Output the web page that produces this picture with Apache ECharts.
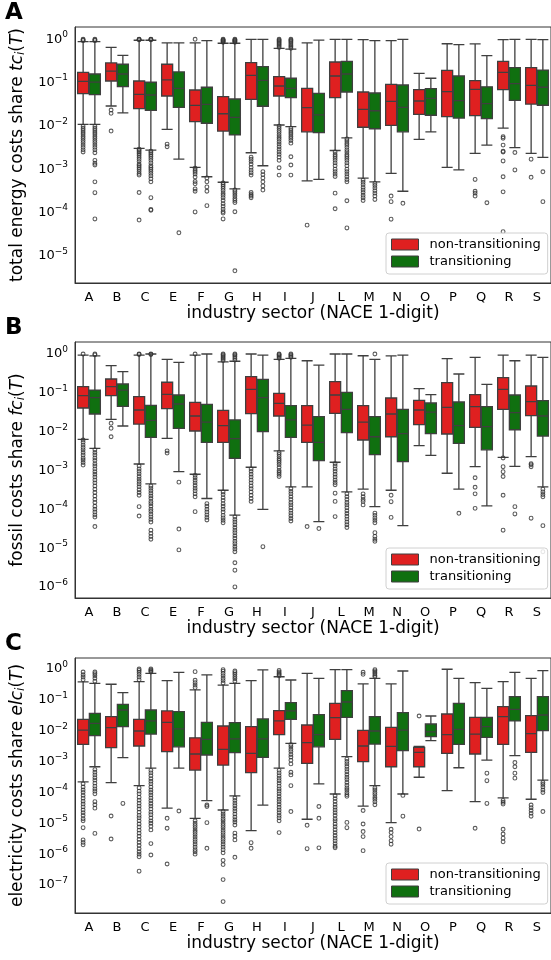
<!DOCTYPE html>
<html>
<head>
<meta charset="utf-8">
<title>Energy cost shares by industry sector</title>
<script src="https://cdn.jsdelivr.net/npm/echarts@6/dist/echarts.min.js"></script>
<style>
  html, body { margin: 0; padding: 0; background: #fff; }
  #chart { width: 551px; height: 960px; }
</style>
</head>
<body>
<div id="chart"></div>
<script>
const sectors = ['A', 'B', 'C', 'E', 'F', 'G', 'H', 'I', 'J', 'L', 'M', 'N', 'O', 'P', 'Q', 'R', 'S'];
const groups = ['non-transitioning', 'transitioning'];

// box stats per sector: [lower whisker, Q1, median, Q3, upper whisker]
// panel A: total energy costs share
const tcNonTrans = [
  [0.0109, 0.0554, 0.107, 0.173, 0.88], [0.0288, 0.109, 0.185, 0.284, 0.65],
  [0.00304, 0.025, 0.0537, 0.109, 0.95], [0.0083, 0.049, 0.115, 0.265, 0.83],
  [0.0011, 0.0125, 0.0299, 0.0675, 0.83], [0.0005, 0.0076, 0.0191, 0.0472, 0.81],
  [0.0024, 0.0411, 0.147, 0.288, 1.0], [0.0105, 0.049, 0.0834, 0.137, 0.62],
  [0.00054, 0.0073, 0.0263, 0.0738, 0.83], [0.0027, 0.0448, 0.142, 0.299, 1.0],
  [0.00062, 0.0093, 0.0242, 0.0607, 0.98], [0.0008, 0.0103, 0.037, 0.0914, 0.93],
  [0.0049, 0.0185, 0.0376, 0.0686, 0.164], [0.0011, 0.0163, 0.0616, 0.192, 0.79],
  [0.00233, 0.0172, 0.070, 0.111, 0.78], [0.0089, 0.0686, 0.173, 0.31, 0.98],
  [0.00233, 0.032, 0.0866, 0.221, 1.0]
];
const tcTrans = [
  [0.0109, 0.0526, 0.103, 0.158, 0.88], [0.0199, 0.0804, 0.158, 0.265, 0.427],
  [0.00277, 0.0229, 0.0517, 0.102, 0.95], [0.0017, 0.0269, 0.0738, 0.176, 0.83],
  [0.00067, 0.0115, 0.0315, 0.078, 0.93], [0.00035, 0.0062, 0.0158, 0.0418, 0.81],
  [0.0012, 0.0284, 0.113, 0.233, 1.0], [0.0096, 0.0448, 0.0738, 0.126, 0.59],
  [0.00058, 0.007, 0.0179, 0.0566, 0.96], [0.0053, 0.0607, 0.158, 0.31, 1.0],
  [0.00051, 0.0086, 0.0224, 0.0575, 0.93], [0.00031, 0.0073, 0.0269, 0.088, 1.0],
  [0.0073, 0.0176, 0.0434, 0.0723, 0.126], [0.00096, 0.0152, 0.0382, 0.142, 0.75],
  [0.0036, 0.0147, 0.0326, 0.080, 0.42], [0.00314, 0.039, 0.0944, 0.221, 1.0],
  [0.00188, 0.030, 0.078, 0.195, 0.98]
];
// outliers per sector
const tcNonTransOut = [
  [0.93, 0.96, 1.0, 0.0098, 0.0088, 0.008, 0.0072, 0.0065, 0.0058, 0.0052, 0.0046, 0.0041, 0.0036, 0.0032, 0.0028, 0.0025],
  [0.0233, 0.0195, 0.0076],
  [0.97, 0.99, 1.0, 0.0029, 0.0027, 0.0025, 0.0023, 0.0021, 0.0019, 0.0017, 0.0015, 0.0013, 0.0012, 0.0011, 0.001, 0.0009, 0.0008, 0.00073, 0.00029, 0.000067],
  [0.0038, 0.0033],
  [1.0, 0.00105, 0.00095, 0.00086, 0.00077, 0.00066, 0.00052, 0.00046, 0.00035, 0.00031, 0.000103],
  [0.85, 0.88, 0.91, 0.94, 0.97, 1.0, 0.00048, 0.00044, 0.0004, 0.00036, 0.00032, 0.00028, 0.00025, 0.00022, 0.00019, 0.00016, 0.00014, 0.00012, 0.000105, 0.000097, 0.000071],
  [0.0019, 0.0017, 0.0015, 0.0013, 0.0011, 0.00095, 0.00083, 0.00073, 0.00029, 0.00026, 0.00024, 0.00022],
  [0.65, 0.7, 0.75, 0.8, 0.85, 0.9, 0.95, 1.0, 0.0098, 0.0088, 0.0078, 0.007, 0.0062, 0.0055, 0.0049, 0.0043, 0.0038, 0.0033, 0.0029, 0.0025, 0.0022, 0.0019, 0.0016, 0.00108, 0.00073],
  [0.000051],
  [0.0025, 0.0022, 0.002, 0.0018, 0.0016, 0.0014, 0.0012, 0.001, 0.00088, 0.00077, 0.00068, 0.00028, 0.000122],
  [0.00056, 0.0005, 0.00044, 0.00038, 0.00033, 0.00029, 0.00025, 0.00022, 0.00019],
  [0.00024, 0.000178, 0.00007],
  [],
  [],
  [0.00058, 0.00031, 0.00028, 0.00024],
  [0.0056, 0.0052, 0.0036, 0.0026, 0.0025, 0.00155, 0.00067, 0.0003, 0.000036],
  [0.0017, 0.00065]
];
const tcTransOut = [
  [0.93, 0.96, 1.0, 0.0098, 0.0088, 0.008, 0.0072, 0.0065, 0.0058, 0.0052, 0.0046, 0.0041, 0.0036, 0.0032, 0.0028, 0.0024, 0.0016, 0.00137, 0.00125, 0.00051, 0.000287, 0.000071],
  [],
  [0.97, 0.99, 1.0, 0.0026, 0.0024, 0.0022, 0.002, 0.0018, 0.0016, 0.0014, 0.0012, 0.0011, 0.001, 0.0009, 0.0008, 0.0007, 0.0006, 0.00051, 0.00022, 0.000117, 0.000113],
  [0.000034],
  [0.00063, 0.00051, 0.00039, 0.00031, 0.000144],
  [0.85, 0.88, 0.91, 0.94, 0.97, 1.0, 0.00033, 0.0003, 0.00027, 0.00024, 0.00021, 0.00019, 0.00017, 0.000104, 0.0000045],
  [0.00088, 0.00075, 0.00063, 0.00051, 0.00041, 0.00033],
  [0.62, 0.67, 0.72, 0.78, 0.84, 0.9, 0.95, 1.0, 0.0088, 0.008, 0.0072, 0.0065, 0.0058, 0.0052, 0.0046, 0.004, 0.00194, 0.00125, 0.00073],
  [],
  [0.005, 0.0045, 0.004, 0.0036, 0.0032, 0.0028, 0.0025, 0.0022, 0.002, 0.0018, 0.0016, 0.0014, 0.0012, 0.001, 0.00088, 0.00077, 0.00067, 0.00058, 0.00051, 0.000187, 0.000044],
  [0.00047, 0.00042, 0.00037, 0.00032, 0.00028, 0.00024, 0.0002],
  [0.000163],
  [],
  [],
  [0.000168],
  [0.00243, 0.00096],
  [0.00087, 0.000178]
];

// panel B: fossil costs share
const fcNonTrans = [
  [0.00636, 0.0407, 0.0843, 0.144, 0.94], [0.0208, 0.0843, 0.144, 0.227, 0.50],
  [0.00147, 0.0157, 0.0361, 0.0796, 0.94], [0.0067, 0.039, 0.0916, 0.187, 0.73],
  [0.0008, 0.0104, 0.0253, 0.0569, 0.94], [0.00031, 0.0053, 0.0143, 0.0355, 0.63],
  [0.00121, 0.029, 0.123, 0.26, 1.0], [0.0032, 0.0253, 0.0537, 0.097, 0.73],
  [0.00038, 0.0053, 0.0148, 0.0466, 0.67], [0.00163, 0.0297, 0.088, 0.194, 1.0],
  [0.00033, 0.0061, 0.0177, 0.0466, 0.9], [0.00031, 0.0074, 0.0285, 0.0736, 0.89],
  [0.00435, 0.0151, 0.0361, 0.064, 0.128], [0.00085, 0.0087, 0.0423, 0.183, 0.76],
  [0.00125, 0.0129, 0.044, 0.0897, 0.82], [0.00218, 0.0376, 0.123, 0.245, 0.94],
  [0.00227, 0.0258, 0.059, 0.15, 0.94]
];
const fcTrans = [
  [0.0037, 0.0285, 0.075, 0.118, 0.89], [0.014, 0.0449, 0.118, 0.169, 0.35],
  [0.00045, 0.00715, 0.0195, 0.0477, 1.0], [0.00093, 0.0122, 0.0516, 0.088, 0.61],
  [0.00019, 0.0053, 0.0177, 0.0506, 1.0], [0.000071, 0.00206, 0.0066, 0.02, 0.65],
  [0.0001, 0.00998, 0.075, 0.223, 0.94], [0.00038, 0.00715, 0.02, 0.0466, 0.77],
  [0.000048, 0.00179, 0.0053, 0.0243, 0.52], [0.00028, 0.0094, 0.0376, 0.103, 1.0],
  [0.000117, 0.00255, 0.0074, 0.0243, 0.73], [0.000038, 0.00169, 0.0089, 0.0376, 0.94],
  [0.00246, 0.0089, 0.032, 0.0547, 0.0897], [0.00033, 0.005, 0.0143, 0.058, 0.305],
  [0.000122, 0.0034, 0.0135, 0.044, 0.166], [0.00128, 0.0112, 0.0308, 0.088, 0.67],
  [0.00038, 0.0077, 0.0253, 0.0628, 0.82]
];
const fcNonTransOut = [
  [1.0, 0.0061, 0.0053, 0.0045, 0.0039, 0.0034, 0.0029, 0.0025, 0.0021, 0.00186, 0.0016, 0.00138],
  [0.0164, 0.0122, 0.0074],
  [0.97, 1.0, 0.0013, 0.0011, 0.00095, 0.00082, 0.0007, 0.0006, 0.00052, 0.00045, 0.00038, 0.00032, 0.00027, 0.00023, 0.000117, 0.000067],
  [0.0032, 0.0028],
  [1.0, 0.00075, 0.00065, 0.00056, 0.00048, 0.00041, 0.00035, 0.0003, 0.00025, 0.00021, 0.000087],
  [0.68, 0.74, 0.8, 0.87, 0.94, 1.0, 0.00028, 0.00024, 0.0002, 0.00017, 0.00014, 0.00012, 0.0001, 0.000085, 0.00007, 0.00006, 0.000052, 0.000045],
  [0.0011, 0.00095, 0.0008, 0.00068, 0.00057, 0.00048, 0.0004, 0.00034, 0.00028, 0.00023, 0.00019, 0.00016],
  [0.78, 0.84, 0.9, 0.96, 1.0, 0.0029, 0.0026, 0.0023, 0.002, 0.0018, 0.0016, 0.0014, 0.0012, 0.001, 0.0009, 0.0008, 0.0007],
  [0.000036],
  [0.0015, 0.0013, 0.0011, 0.00095, 0.0008, 0.00068, 0.00057, 0.00049, 0.00043, 0.00026, 0.00016, 0.000065],
  [0.00025, 0.00021, 0.00018, 0.00016, 0.00013],
  [0.00023, 0.000157, 0.000062],
  [],
  [],
  [0.00065, 0.00037, 0.00025, 0.000106],
  [0.0021, 0.00125, 0.00093, 0.0007, 0.00023, 0.000029],
  [0.0015, 0.0014, 0.00125, 0.000059]
];
const fcTransOut = [
  [0.95, 1.0, 0.0034, 0.0029, 0.0025, 0.0021, 0.0018, 0.0015, 0.0013, 0.0011, 0.00093, 0.0008, 0.00068, 0.00057, 0.00048, 0.0004, 0.00033, 0.00027, 0.00022, 0.00018, 0.00015, 0.00012, 0.0001, 0.000085, 0.000072, 0.000063, 0.000036],
  [],
  [0.97, 1.0, 0.0004, 0.00035, 0.0003, 0.00026, 0.00022, 0.00019, 0.00016, 0.00014, 0.00012, 0.0001, 0.000088, 0.000075, 0.000064, 0.000055, 0.000047, 0.000029, 0.000024, 0.00002, 0.000017],
  [0.0005, 0.000031, 0.000009],
  [0.00014, 0.00012, 0.0001, 0.000085, 0.000072, 0.000062, 0.000053],
  [0.7, 0.78, 0.86, 0.94, 1.0, 0.000064, 0.000055, 0.000047, 0.00004, 0.000034, 0.000029, 0.000025, 0.000021, 0.000018, 0.000015, 0.000013, 0.000011, 0.0000095, 0.0000081, 0.0000042, 0.0000027, 0.000001],
  [0.0000109],
  [0.82, 0.88, 0.94, 1.0, 0.00034, 0.00029, 0.00025, 0.00021, 0.00018, 0.00015, 0.00013, 0.00011, 0.000094, 0.00008, 0.000068, 0.000058, 0.00005],
  [0.000032],
  [0.00025, 0.00021, 0.00018, 0.00015, 0.00013, 0.00011, 0.000092, 0.000078, 0.000066, 0.000056, 0.000047, 0.00004, 0.000034],
  [1.0, 0.00008, 0.00007, 0.00006, 0.000052, 0.000045, 0.000025, 0.00002, 0.000017, 0.000015],
  [],
  [],
  [0.000079],
  [],
  [0.000117, 0.000076],
  [0.00033, 0.00028, 0.00024, 0.00021, 0.000038, 0.0000081]
];

// panel C: electricity costs share
const elcNonTrans = [
  [0.00022, 0.00363, 0.0105, 0.0234, 0.38], [0.000207, 0.00282, 0.0126, 0.0285, 0.32],
  [0.000166, 0.0032, 0.0098, 0.0234, 0.39], [0.000031, 0.0021, 0.0187, 0.0436, 0.42],
  [0.0000145, 0.00053, 0.00176, 0.0059, 0.21], [0.000027, 0.00077, 0.0025, 0.0142, 0.30],
  [0.0000058, 0.00044, 0.00185, 0.0135, 0.42], [0.00061, 0.00744, 0.0207, 0.0446, 0.56],
  [0.0000135, 0.00088, 0.0041, 0.0153, 0.72], [0.000089, 0.00526, 0.0265, 0.077, 0.95],
  [0.000036, 0.00099, 0.0032, 0.0103, 0.33], [0.0000105, 0.00068, 0.0031, 0.0129, 0.33],
  [0.00031, 0.00068, 0.002, 0.0029, 0.0031], [0.000114, 0.00185, 0.00744, 0.0348, 0.98],
  [0.00005, 0.00176, 0.0078, 0.0272, 0.36], [0.000067, 0.00363, 0.0285, 0.06, 0.39],
  [0.00006, 0.002, 0.008, 0.0307, 0.5]
];
const elcTrans = [
  [0.00068, 0.0069, 0.0174, 0.0366, 0.34], [0.00134, 0.0135, 0.0469, 0.0717, 0.171],
  [0.00061, 0.0078, 0.0207, 0.0469, 0.72], [0.00061, 0.003, 0.0115, 0.0414, 0.78],
  [0.000054, 0.00163, 0.00526, 0.0187, 0.64], [0.000077, 0.00194, 0.0054, 0.0182, 0.34],
  [0.000039, 0.00137, 0.0054, 0.024, 0.93], [0.0039, 0.0234, 0.0436, 0.081, 0.44],
  [0.000188, 0.003, 0.00744, 0.033, 0.5], [0.00144, 0.0272, 0.0853, 0.199, 0.95],
  [0.000166, 0.0037, 0.0098, 0.0285, 0.5], [0.000089, 0.00225, 0.0105, 0.0384, 0.86],
  [0.00475, 0.0064, 0.0091, 0.0165, 0.03], [0.00063, 0.00363, 0.0111, 0.077, 0.5],
  [0.00112, 0.0061, 0.0135, 0.0272, 0.237], [0.00155, 0.0207, 0.0494, 0.127, 0.78],
  [0.00025, 0.01, 0.0323, 0.127, 0.88]
];
const elcNonTransOut = [
  [0.45, 0.55, 0.65, 0.8, 0.00019, 0.00015, 0.00012, 0.0001, 0.00008, 0.000065, 0.000052, 0.000042, 0.000034, 0.000027, 0.000022, 0.000018, 0.000014, 0.000012, 0.0000072, 0.0000029, 0.0000024, 0.000002],
  [0.0000172, 0.0000031],
  [0.45, 0.55, 0.66, 0.78, 0.9, 1.0, 0.00014, 0.00011, 0.00009, 0.00007, 0.000056, 0.000045, 0.000036, 0.000029, 0.000023, 0.000018, 0.000015, 0.000012, 0.0000095, 0.0000076, 0.000006, 0.0000048, 0.0000038, 0.000003, 0.0000024, 0.0000019, 0.0000015, 0.0000012, 0.000001, 0.00000082, 0.00000028],
  [0.0000145, 0.0000069, 0.00000048],
  [0.25, 0.3, 0.36, 0.43, 0.82, 0.000012, 0.00001, 0.0000085, 0.0000072, 0.000006, 0.0000051, 0.0000043, 0.0000036, 0.000003, 0.0000025, 0.0000021, 0.0000017, 0.0000014, 0.0000012, 0.000001],
  [0.35, 0.42, 0.5, 0.6, 0.72, 0.85, 0.95, 0.000024, 0.00002, 0.000017, 0.000014, 0.000012, 0.00001, 0.0000085, 0.0000072, 0.000006, 0.000005, 0.0000042, 0.0000035, 0.000003, 0.0000025, 0.0000021, 0.0000017, 0.0000014, 0.0000011, 0.00000063, 0.00000046, 0.00000015, 0.000000029],
  [0.00000235, 0.00000155],
  [0.6, 0.66, 0.72, 0.8, 0.9, 0.00052, 0.00043, 0.00035, 0.00029, 0.00024, 0.0002, 0.00016, 0.00013, 0.00011, 0.00009, 0.000074, 0.00006, 0.00005, 0.000041, 0.000033, 0.000027, 0.000022, 0.000018, 0.000015, 0.000012, 0.000005],
  [0.0000086, 0.0000015],
  [0.000078, 0.000063, 0.000051, 0.000041, 0.000033, 0.000027, 0.000022, 0.000018, 0.000014, 0.000012, 0.0000095, 0.0000077, 0.0000062, 0.000005, 0.000004, 0.0000033, 0.0000027, 0.0000022, 0.0000018, 0.0000016],
  [0.67, 0.78, 0.000026, 0.0000095, 0.0000054, 0.0000037, 0.0000013],
  [0.0000064, 0.000005, 0.0000037, 0.0000027, 0.0000021],
  [0.03, 0.0000065],
  [],
  [0.0000069],
  [0.000055, 0.000048, 0.000042, 0.0000064, 0.0000045, 0.0000033, 0.0000025],
  [0.000039, 0.000032, 0.000026, 0.000021, 0.000017]
];
const elcTransOut = [
  [0.4, 0.5, 0.6, 0.7, 0.8, 0.00055, 0.00045, 0.00037, 0.0003, 0.00025, 0.0002, 0.00016, 0.00013, 0.00011, 0.00009, 0.00005, 0.00004, 0.000031, 0.0000047],
  [0.000044],
  [0.8, 0.86, 0.92, 1.0, 0.00052, 0.00043, 0.00035, 0.00028, 0.00023, 0.00019, 0.00015, 0.00012, 0.0001, 0.000082, 0.000066, 0.000054, 0.000044, 0.000036, 0.000029, 0.000023, 0.000019, 0.000015, 0.000012, 0.00001, 0.000008, 0.0000061, 0.0000022, 0.00000094],
  [0.000025],
  [0.000039, 0.000035, 0.0000105, 0.00000155],
  [0.4, 0.48, 0.56, 0.66, 0.76, 0.86, 0.000066, 0.000055, 0.000045, 0.000037, 0.00003, 0.000025, 0.00002, 0.000016, 0.000013, 0.000011, 0.0000088, 0.0000048, 0.0000038, 0.0000029, 0.00000079],
  [],
  [0.0035, 0.003, 0.0025, 0.0021, 0.0017, 0.0014, 0.0011, 0.00084, 0.00045, 0.00037, 0.000166, 0.000024],
  [0.000035, 0.0000145, 0.0000016],
  [0.0012, 0.001, 0.00084, 0.00069, 0.00057, 0.00047, 0.00038, 0.00031, 0.00026, 0.00021, 0.00017, 0.00014, 0.00012, 0.0001, 0.000085, 0.000075, 0.0000107, 0.0000072],
  [0.56, 0.62, 0.7, 0.78, 0.87, 0.95, 0.00014, 0.00012, 0.0001, 0.000085, 0.00007, 0.00006, 0.00005, 0.00004],
  [0.00008, 0.000017],
  [],
  [],
  [0.00042, 0.00024, 0.000044],
  [0.00093, 0.00068, 0.00042, 0.00029],
  [0.00021, 0.00018, 0.00015, 0.00012, 0.0001, 0.000024]
];

const font = 'DejaVu Sans';
const fills = ['#df2020', '#107010'];
const edge = '#3f3f3f';
const spine = '#333';
const lg = Math.log10;

// layout of the three stacked panels (log10 extents)
const panels = [
  {
    letter: 'A', top: 27, height: 256, min: -5.628, max: 0.284,
    name: 'total energy costs share {i|tc}{s|i}{n|(}{i|T}{n|)}',
    boxes: [tcNonTrans, tcTrans], fliers: [tcNonTransOut, tcTransOut]
  },
  {
    letter: 'B', top: 342, height: 256, min: -6.284, max: 0.309,
    name: 'fossil costs share {i|fc}{s|i}{n|(}{i|T}{n|)}',
    boxes: [fcNonTrans, fcTrans], fliers: [fcNonTransOut, fcTransOut]
  },
  {
    letter: 'C', top: 658, height: 255, min: -7.907, max: 0.356,
    name: 'electricity costs share {i|elc}{s|i}{n|(}{i|T}{n|)}',
    boxes: [elcNonTrans, elcTrans], fliers: [elcNonTransOut, elcTransOut]
  }
];

const decades = (p) => {
  const out = [];
  for (let k = Math.ceil(p.min); k <= Math.floor(p.max); k++) out.push(k);
  return out;
};
const minorTicks = (p) => {
  const out = [];
  for (let k = Math.floor(p.min); k <= Math.ceil(p.max); k++) {
    for (let m = 2; m <= 9; m++) {
      const v = k + lg(m);
      if (v > p.min && v < p.max) out.push(v);
    }
  }
  return out;
};

const option = {
  animation: false,
  title: [], grid: [], xAxis: [], yAxis: [], legend: [], series: []
};

panels.forEach((p, i) => {
  option.title.push({
    text: p.letter, left: 5, top: p.top - 25, padding: 0,
    textStyle: { fontFamily: font, fontSize: 23, fontWeight: 'bold', color: '#000' }
  });
  option.grid.push({
    left: 75, right: -3.4, top: p.top, height: p.height,
    show: true, borderColor: spine, borderWidth: 1
  });
  option.xAxis.push({
    type: 'category', gridIndex: i, data: sectors,
    name: 'industry sector (NACE 1-digit)', nameLocation: 'middle', nameGap: 22,
    nameTextStyle: { fontFamily: font, fontSize: 17, color: '#000' },
    axisLine: { onZero: false, lineStyle: { color: spine, width: 1 } },
    axisTick: { alignWithLabel: true, length: 5, lineStyle: { color: '#222' } },
    axisLabel: { margin: 8, fontFamily: font, fontSize: 13, color: '#000' }
  });
  option.yAxis.push({
    type: 'value', gridIndex: i, min: p.min, max: p.max,
    name: p.name, nameLocation: 'middle', nameGap: 46,
    nameTextStyle: {
      fontFamily: font, fontSize: 17, color: '#000',
      rich: {
        i: { fontFamily: font, fontSize: 17, fontStyle: 'italic', color: '#000' },
        n: { fontFamily: font, fontSize: 17, color: '#000' },
        s: { fontFamily: font, fontSize: 12, fontStyle: 'italic', color: '#000', padding: [7, 0, 0, 0] }
      }
    },
    splitLine: { show: false },
    axisLine: { show: true, lineStyle: { color: spine, width: 1 } },
    axisTick: { customValues: decades(p), length: 5, lineStyle: { color: '#222' } },
    axisLabel: {
      customValues: decades(p), margin: 7,
      formatter: (v) => '{b|10}{e|' + (v < 0 ? '\u2212' + (-v) : v) + '}',
      rich: {
        b: { fontFamily: font, fontSize: 13, color: '#000' },
        e: { fontFamily: font, fontSize: 9, color: '#000', padding: [0, 0, 9, 0] }
      }
    }
  });
  // minor log ticks
  option.yAxis.push({
    type: 'value', gridIndex: i, min: p.min, max: p.max, position: 'left',
    splitLine: { show: false }, axisLine: { show: false }, axisLabel: { show: false },
    axisTick: { customValues: minorTicks(p), length: 2.5, lineStyle: { color: '#222', width: 0.8 } }
  });
  option.legend.push({
    orient: 'vertical', left: 386, top: p.top + p.height - 50,
    padding: [5, 7, 6, 5], itemWidth: 27, itemHeight: 11, itemGap: 4,
    backgroundColor: 'rgba(255,255,255,0.85)', borderColor: '#d0d0d0', borderWidth: 1, borderRadius: 3,
    textStyle: { fontFamily: font, fontSize: 13, color: '#000', padding: [0, 0, 0, 6] },
    selectedMode: false,
    data: groups.map((g, s) => ({
      name: g, icon: 'rect',
      itemStyle: { color: fills[s], borderColor: edge, borderWidth: 1 }
    }))
  });

  groups.forEach((g, s) => {
    option.series.push({
      type: 'boxplot', name: g, xAxisIndex: i, yAxisIndex: 2 * i,
      data: p.boxes[s].map((b) => b.map(lg)),
      boxWidth: [11, 11],
      itemStyle: { color: fills[s], borderColor: edge, borderWidth: 1.3 },
      emphasis: { disabled: true },
      silent: true
    });
    option.series.push({
      type: 'scatter', name: g + ' outliers', xAxisIndex: i, yAxisIndex: 2 * i,
      data: p.fliers[s].flatMap((vals, c) => vals.map((v) => [c, lg(v)])),
      symbol: 'circle', symbolSize: 3.8, symbolOffset: [s ? 5.9 : -5.9, 0],
      itemStyle: { color: 'rgba(255,255,255,0)', borderColor: '#333', borderWidth: 1.1 },
      silent: true
    });
  });
});

const chart = echarts.init(document.getElementById('chart'), null, { renderer: 'canvas' });
chart.setOption(option);
</script>
</body>
</html>
